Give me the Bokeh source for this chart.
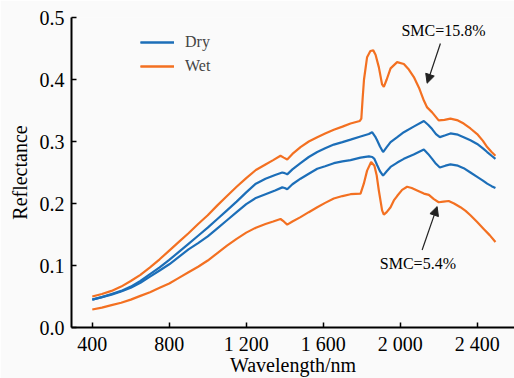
from bokeh.plotting import figure
from bokeh.models import (Range1d, FixedTicker, Legend, LegendItem, Label, Arrow,
                          NormalHead)
from bokeh.embed import file_html
from bokeh.resources import INLINE

# ---------------- data ----------------
wet_hi_wl = [400, 450, 500, 550, 600, 650, 700, 750, 800, 850, 900, 950, 1000, 1050,
             1100, 1150, 1200, 1250, 1300, 1340, 1378, 1395, 1413, 1440, 1482, 1525,
             1569, 1610, 1655, 1700, 1742, 1790, 1798, 1805, 1812, 1828, 1845, 1860,
             1872, 1889, 1906, 1915, 1930, 1950, 1984, 2019, 2045, 2071, 2100, 2123,
             2140, 2166, 2200, 2230, 2261, 2300, 2330, 2365, 2400, 2430, 2452, 2475, 2495]
wet_hi_r = [.050, .054, .059, .066, .075, .085, .097, .110, .124, .138, .152, .167, .181, .197,
            .212, .227, .241, .254, .263, .270, .277, .274, .271, .280, .291, .300,
            .307, .313, .319, .324, .329, .333, .337, .370, .400, .436, .446, .447,
            .440, .420, .392, .388, .400, .418, .428, .425, .416, .404, .385, .366,
            .355, .347, .334, .335, .337, .334, .329, .321, .312, .301, .291, .283, .277]

dry_hi_wl = [400, 450, 500, 550, 600, 650, 700, 750, 800, 850, 900, 950, 1000, 1050,
             1100, 1150, 1200, 1250, 1300, 1350, 1387, 1400, 1413, 1440, 1482, 1525,
             1569, 1610, 1655, 1700, 1742, 1794, 1837, 1854, 1870, 1880, 1895, 1911,
             1930, 1950, 1985, 2019, 2070, 2123, 2145, 2166, 2186, 2206, 2235, 2261,
             2300, 2330, 2365, 2400, 2430, 2452, 2475, 2495]
dry_hi_r = [.045, .049, .054, .059, .066, .075, .086, .097, .109, .122, .135, .148, .161, .175,
            .189, .203, .218, .232, .240, .246, .250, .249, .247, .255, .265, .275,
            .283, .289, .295, .299, .303, .308, .312, .315, .308, .302, .292, .283,
            .291, .299, .307, .315, .324, .333, .327, .320, .312, .307, .310, .313,
            .311, .307, .302, .296, .289, .283, .277, .272]

dry_lo_wl = [400, 450, 500, 550, 600, 650, 700, 750, 800, 850, 900, 950, 1000, 1050,
             1100, 1150, 1200, 1250, 1300, 1350, 1387, 1400, 1413, 1440, 1482, 1525,
             1569, 1610, 1655, 1700, 1742, 1794, 1837, 1855, 1866, 1880, 1895, 1911,
             1930, 1950, 1985, 2019, 2070, 2123, 2145, 2166, 2186, 2206, 2235, 2261,
             2300, 2330, 2365, 2400, 2430, 2452, 2475, 2495]
dry_lo_r = [.045, .049, .053, .058, .064, .072, .082, .092, .102, .114, .126, .136, .147, .160,
            .173, .186, .199, .209, .215, .221, .226, .225, .223, .231, .240, .248,
            .256, .260, .265, .268, .270, .274, .276, .275, .272, .262, .252, .245,
            .252, .259, .266, .272, .279, .287, .280, .272, .264, .258, .261, .263,
            .261, .257, .250, .243, .237, .232, .228, .225]

wet_lo_wl = [400, 450, 500, 550, 600, 650, 700, 750, 800, 850, 900, 950, 1000, 1050,
             1100, 1150, 1200, 1250, 1300, 1340, 1378, 1395, 1413, 1440, 1482, 1525,
             1569, 1610, 1655, 1700, 1742, 1794, 1811, 1828, 1849, 1866, 1878, 1889,
             1906, 1915, 1930, 1950, 1967, 1984, 2010, 2036, 2060, 2088, 2123, 2149,
             2175, 2200, 2225, 2252, 2280, 2313, 2340, 2365, 2400, 2434, 2465, 2495]
wet_lo_r = [.029, .032, .036, .040, .045, .051, .057, .064, .071, .080, .089, .098, .108, .120,
            .132, .143, .153, .161, .167, .171, .175, .171, .166, .171, .178, .186,
            .194, .201, .208, .212, .215, .216, .232, .253, .267, .261, .245, .221,
            .189, .182, .186, .194, .205, .212, .222, .227, .225, .221, .216, .214,
            .207, .202, .203, .204, .200, .194, .188, .181, .170, .159, .149, .138]

x_ticks = [400, 800, 1200, 1600, 2000, 2400]
x_tick_labels = ["400", "800", "1 200", "1 600", "2 000", "2 400"]
y_ticks = [0.0, 0.1, 0.2, 0.3, 0.4, 0.5]
y_tick_labels = ["0.0", "0.1", "0.2", "0.3", "0.4", "0.5"]

ann_hi_text = "SMC=15.8%"
ann_hi_pos = (2225, 0.479)
ann_hi_arrow = (2209, 0.458, 2140, 0.394)
ann_lo_text = "SMC=5.4%"
ann_lo_pos = (2092, 0.104)
ann_lo_arrow = (2114, 0.125, 2192, 0.195)

# ---------------- style ----------------
BLUE = "#1c6eb8"
ORANGE = "#f37021"
FONT = "Liberation Serif"
BG = "#fafafa"

p = figure(width=514, height=378, output_backend="svg", toolbar_location=None,
           x_range=Range1d(292, 2594), y_range=Range1d(0, 0.5),
           min_border_left=71, min_border_right=0, min_border_top=17,
           min_border_bottom=51)
p.background_fill_color = BG
p.border_fill_color = BG
p.outline_line_color = None
p.grid.visible = False

r_dry_hi = p.line(dry_hi_wl, dry_hi_r, line_color=BLUE, line_width=2.2)
r_dry_lo = p.line(dry_lo_wl, dry_lo_r, line_color=BLUE, line_width=2.2)
r_wet_hi = p.line(wet_hi_wl, wet_hi_r, line_color=ORANGE, line_width=2.2)
r_wet_lo = p.line(wet_lo_wl, wet_lo_r, line_color=ORANGE, line_width=2.2)

for ax in (p.xaxis[0], p.yaxis[0]):
    ax.axis_line_width = 2
    ax.axis_line_color = "black"
    ax.major_tick_in = 5
    ax.major_tick_out = 0
    ax.major_tick_line_width = 1.5
    ax.minor_tick_line_color = None
    ax.major_label_text_font = FONT
    ax.major_label_text_font_size = "20px"
    ax.major_label_text_color = "black"
    ax.major_label_text_line_height = 1.0
    ax.axis_label_text_font = FONT
    ax.axis_label_text_font_size = "20px"
    ax.axis_label_text_font_style = "normal"
    ax.axis_label_text_color = "black"
    ax.axis_label_text_line_height = 1.0

p.xaxis[0].ticker = FixedTicker(ticks=x_ticks)
p.xaxis[0].major_label_overrides = dict(zip(x_ticks, x_tick_labels))
p.yaxis[0].ticker = FixedTicker(ticks=y_ticks)
p.yaxis[0].major_label_overrides = dict(zip(y_ticks, y_tick_labels))
p.xaxis[0].axis_label = "Wavelength/nm"
p.yaxis[0].axis_label = "Reflectance"
p.xaxis[0].major_label_standoff = 5
p.xaxis[0].axis_label_standoff = -4
p.yaxis[0].major_label_standoff = 7
p.yaxis[0].axis_label_standoff = 6

legend = Legend(items=[LegendItem(label="Dry", renderers=[r_dry_hi, r_dry_lo]),
                       LegendItem(label="Wet", renderers=[r_wet_hi, r_wet_lo])],
                location=(69, 251), padding=0, margin=0, spacing=4,
                glyph_width=34, glyph_height=20, label_height=20,
                label_standoff=11, border_line_alpha=0, background_fill_alpha=0,
                label_text_font=FONT, label_text_font_size="16px")
p.add_layout(legend)

for txt, pos in ((ann_hi_text, ann_hi_pos), (ann_lo_text, ann_lo_pos)):
    p.add_layout(Label(x=pos[0], y=pos[1], text=txt, text_align="center",
                       text_baseline="middle", text_font=FONT,
                       text_font_size="16px", text_color="black"))

for (xs, ys, xe, ye) in (ann_hi_arrow, ann_lo_arrow):
    p.add_layout(Arrow(x_start=xs, y_start=ys, x_end=xe, y_end=ye,
                       line_color="#222222", line_width=1.2,
                       end=NormalHead(size=9, fill_color="#222222",
                                      line_color="#222222", line_width=1)))

html = file_html(p, INLINE)
html = html.replace("<body>", '<body style="background:#fafafa">', 1)
open("out.html", "w").write(html)
